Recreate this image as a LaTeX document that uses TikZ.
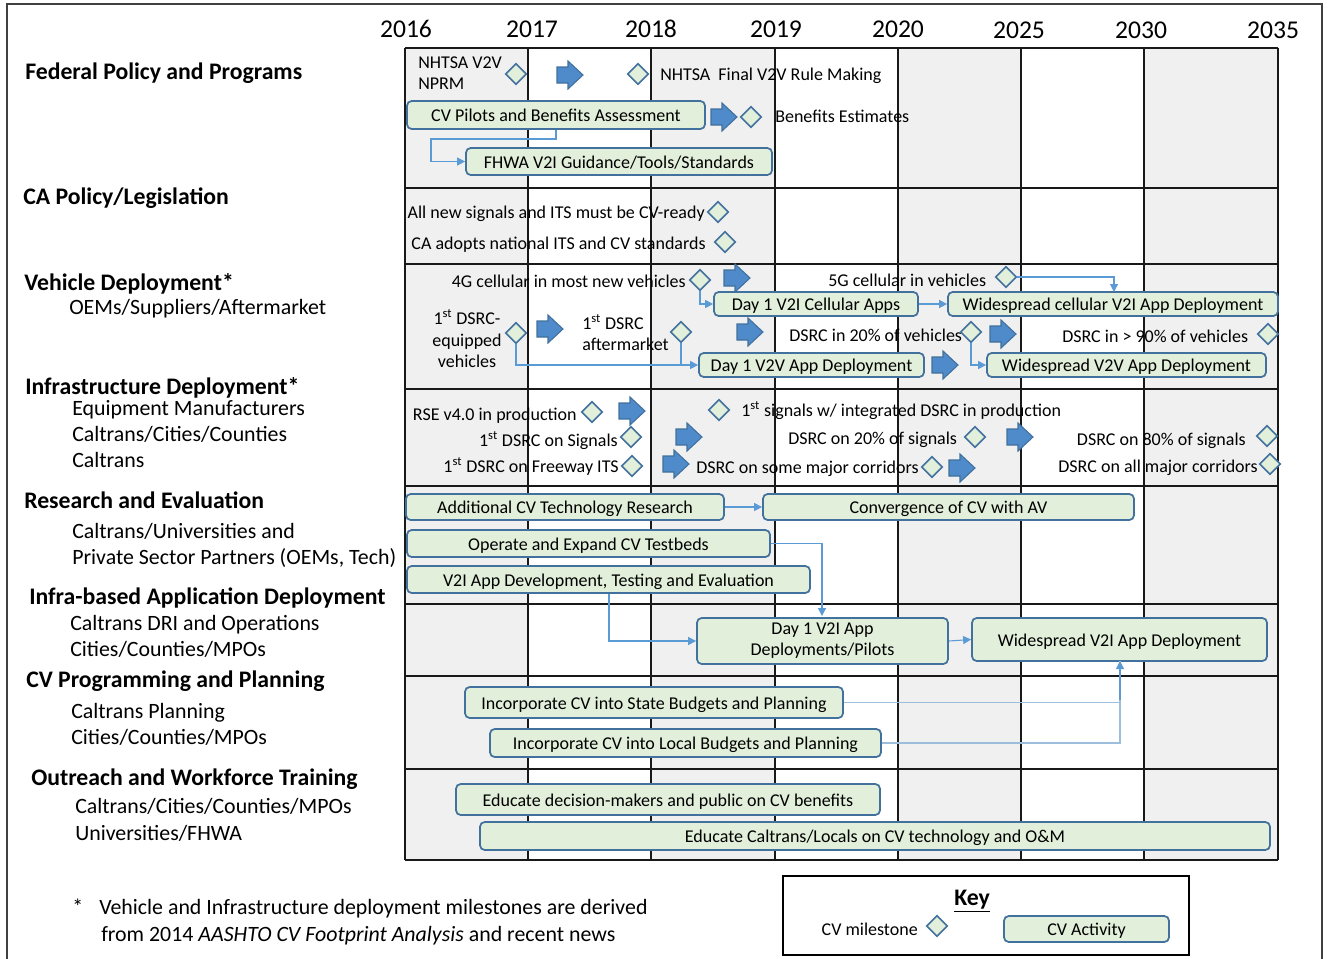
\documentclass[tikz,border=0pt]{standalone}
\usepackage{fontspec}
\setmainfont{Carlito}
\usetikzlibrary{shapes.geometric,arrows.meta,calc}
\definecolor{gridgray}{HTML}{F0F0F0}
\definecolor{actgreen}{HTML}{E2EFDA}
\definecolor{msblue}{HTML}{41719C}
\definecolor{arrblue}{HTML}{4F8ACB}
\definecolor{connblue}{HTML}{5B9BD5}
\definecolor{connlight}{HTML}{9CBDDC}
\definecolor{framegray}{HTML}{404040}
\newcommand\fbody{\fontsize{13.5}{16}\selectfont}
\newcommand\fhead{\fontsize{17.8}{21}\selectfont\bfseries}
\newcommand\fsubl{\fontsize{16.4}{19.5}\selectfont}
\newcommand\fyear{\fontsize{19.2}{23}\selectfont}
\newcommand\actbox[6]{\node[act, minimum width={(#4-#2)*0.75pt}, minimum height={(#5-#3)*0.75pt}] (#1) at ({(#2+#4)/2},{(#3+#5)/2}) {#6};}
\tikzset{
 txt/.style={inner sep=0pt, font=\fbody, text height=0.98em, text depth=0pt},
 ml/.style={inner sep=0pt, font=\fbody, align=center},
 hd/.style={inner sep=0pt, font=\fhead, anchor=west, text height=1.15em, text depth=0pt},
 sb/.style={inner sep=0pt, font=\fsubl, anchor=west, text height=1.01em, text depth=0pt},
 yr/.style={inner sep=0pt, font=\fyear, text height=1.03em, text depth=0pt},
 ms/.style={diamond, draw=msblue, fill=actgreen, line width=1.2pt, minimum width=16pt, minimum height=16pt, inner sep=0pt},
 act/.style={rounded corners=3.5pt, draw=msblue, fill=actgreen, line width=1.3pt, font=\fbody, align=center, inner sep=0pt, text height=1.1em, text depth=0.1em},
 conn/.style={draw=connblue, line width=0.8pt, -{Triangle[length=6pt,width=6pt]}},
 plainconn/.style={draw=connblue, line width=0.8pt},
 lightconn/.style={draw=connlight, line width=0.8pt},
 gridline/.style={draw=black!90, line width=1.4pt},
 barrow/.pic={\path[draw=msblue, fill=arrblue, line width=0.8pt] (-13,-8)--(-2,-8)--(-2,-14)--(13,0)--(-2,14)--(-2,8)--(-13,8)--cycle;},
}
\begin{document}
\begin{tikzpicture}[x=0.75pt,y=-0.75pt]
\useasboundingbox (0,0) rectangle (1328,958);
% outer frame
\draw[draw=framegray, line width=1.1pt] (7,970) -- (7,4) -- (1322,4) -- (1322,970);
% grid fills
\foreach \a/\b in {405/528,651/775,898/1021,1144/1278}{\fill[gridgray] (\a,48) rectangle (\b,860);}
\foreach \x in {405,528,651,775,898,1021,1144,1278}{\draw[gridline] (\x,48) -- (\x,860);}
\foreach \y in {48,188,264,389,486,604,676,769,860}{\draw[gridline] (405,\y) -- (1278,\y);}
% years
\node[yr] (y16) at (406,31) {2016};
\node[yr] (y17) at (532,31) {2017};
\node[yr] (y18) at (651,31) {2018};
\node[yr] (y19) at (776,31) {2019};
\node[yr] (y20) at (898,31) {2020};
\node[yr] (y25) at (1019,32) {2025};
\node[yr] (y30) at (1141,32) {2030};
\node[yr] (y35) at (1273,32) {2035};
% left labels
\node[hd] (h1) at (25,72) {Federal Policy and Programs};
\node[hd] (h2) at (23,197) {CA Policy/Legislation};
\node[hd] (h3) at (24,283) {Vehicle Deployment*};
\node[sb] (s31) at (69,308) {OEMs/Suppliers/Aftermarket};
\node[hd] (h4) at (25,387) {Infrastructure Deployment*};
\node[sb] (s41) at (72,409) {Equipment Manufacturers};
\node[sb] (s42) at (72,435) {Caltrans/Cities/Counties};
\node[sb] (s43) at (72,461) {Caltrans};
\node[hd] (h5) at (24,501) {Research and Evaluation};
\node[sb] (s51) at (72,532) {Caltrans/Universities and};
\node[sb] (s52) at (72,558) {Private Sector Partners (OEMs, Tech)};
\node[hd] (h6) at (29,597) {Infra-based Application Deployment};
\node[sb] (s61) at (70,624) {Caltrans DRI and Operations};
\node[sb] (s62) at (70,650) {Cities/Counties/MPOs};
\node[hd] (h7) at (26,680) {CV Programming and Planning};
\node[sb] (s71) at (71,712) {Caltrans Planning};
\node[sb] (s72) at (71,738) {Cities/Counties/MPOs};
\node[hd] (h8) at (31,778) {Outreach and Workforce Training};
\node[sb] (s81) at (75,807) {Caltrans/Cities/Counties/MPOs};
\node[sb] (s82) at (75,834) {Universities/FHWA};
% ---------- Row 1
\node[ml, align=left, anchor=west, font=\fontsize{13.5}{15.75}\selectfont] (nprm) at (418,73) {NHTSA V2V\\NPRM};
\node[ms] (d1) at (516,74) {};
\pic at (570,75) {barrow};
\node[ms] (d2) at (638,74) {};
\node[txt, anchor=west] (t1) at (660,74) {NHTSA\ \ Final V2V Rule Making};
\actbox{cvpilots}{407}{101}{705}{129}{CV Pilots and Benefits Assessment}
\pic at (724,117) {barrow};
\node[ms] (d3) at (751,117) {};
\node[txt, anchor=west] (t2) at (775,116) {Benefits Estimates};
\actbox{fhwa}{466}{148}{772}{175}{FHWA V2I Guidance/Tools/Standards}
\coordinate (k0) at (556,139);
\draw[conn] (cvpilots.south -| k0) -- (k0) -- (431,139) |- (fhwa.west);
% ---------- Row 2
\node[txt, anchor=east] (t3) at (705,212) {All new signals and ITS must be CV-ready};
\node[ms] (d4) at (718,212) {};
\node[txt, anchor=east] (t4) at (706,243) {CA adopts national ITS and CV standards};
\node[ms] (d5) at (725,242) {};
% ---------- Row 3
\node[txt, anchor=east] (t5) at (686,281) {4G cellular in most new vehicles};
\node[ms] (d4g) at (700,280) {};
\pic at (737,278) {barrow};
\node[txt, anchor=west] (t6) at (828,280) {5G cellular in vehicles};
\node[ms] (d5g) at (1006,277) {};
\actbox{day1cell}{714}{292}{918}{316}{Day 1 V2I Cellular Apps}
\actbox{widecell}{948}{292}{1278}{316}{Widespread cellular V2I App Deployment}
\draw[conn] (d4g.south) |- (day1cell.west);
\draw[conn] (day1cell.east) -- (widecell.west);
\coordinate (k1) at (1114,292);
\draw[conn] (d5g.east) -| (k1);
\node[ml, font=\fontsize{13.5}{16.1}\selectfont] (t7) at (467,339) {1\textsuperscript{st} DSRC-\\equipped\\vehicles};
\node[ms] (deq) at (516,333) {};
\pic at (550,329) {barrow};
\node[ml, align=left, anchor=west, font=\fontsize{13.5}{15.75}\selectfont] (t8) at (582,333) {1\textsuperscript{st} DSRC\\aftermarket};
\node[ms] (daft) at (681,332) {};
\pic at (750,332) {barrow};
\node[txt, anchor=west] (t9) at (789,335) {DSRC in 20\% of vehicles};
\node[ms] (d20) at (971,332) {};
\pic at (1003,334) {barrow};
\node[txt, anchor=west] (t10) at (1062,336) {DSRC in > 90\% of vehicles};
\node[ms] (d90) at (1268,334) {};
\actbox{day1v2v}{699}{353}{924}{377}{Day 1 V2V App Deployment}
\pic at (945,365) {barrow};
\actbox{widev2v}{987}{353}{1266}{377}{Widespread V2V App Deployment}
\draw[conn] (deq.south) |- (day1v2v.west);
\draw[plainconn] (daft.south) -- (daft.south |- day1v2v.west);
\draw[conn] (d20.south) |- (widev2v.west);
% ---------- Row 4
\node[txt, anchor=east] (t11) at (577,414) {RSE v4.0 in production};
\node[ms] (drse) at (592,412) {};
\pic at (632,411) {barrow};
\node[ms] (dint) at (719,410) {};
\node[txt, anchor=west] (t12) at (741,410) {1\textsuperscript{st} signals w/ integrated DSRC in production};
\node[txt, anchor=east] (t13) at (618,440) {1\textsuperscript{st} DSRC on Signals};
\node[ms] (dsig) at (631,437) {};
\pic at (689,437) {barrow};
\node[txt, anchor=west] (t14) at (788,438) {DSRC on 20\% of signals};
\node[ms] (dsig20) at (975,437) {};
\pic at (1020,437) {barrow};
\node[txt, anchor=east] (t15) at (1246,439) {DSRC on 80\% of signals};
\node[ms] (dsig80) at (1267,436) {};
\node[txt, anchor=east] (t16) at (619,466) {1\textsuperscript{st} DSRC on Freeway ITS};
\node[ms] (dfwy) at (632,466) {};
\pic at (676,464) {barrow};
\node[txt, anchor=west] (t17) at (696,467) {DSRC on some major corridors};
\node[ms] (dsome) at (932,467) {};
\pic at (962,468) {barrow};
\node[txt, anchor=east] (t18) at (1258,466) {DSRC on all major corridors};
\node[ms] (dall) at (1270,464) {};
% ---------- Row 5 / 6
\actbox{addl}{406}{494}{724}{520}{Additional CV Technology Research}
\actbox{conv}{763}{494}{1134}{520}{Convergence of CV with AV}
\draw[conn] (addl.east) -- (conv.west);
\actbox{testbeds}{407}{530}{770}{557}{Operate and Expand CV Testbeds}
\actbox{v2idev}{407}{566}{810}{593}{V2I App Development, Testing and Evaluation}
\node[act, text height={}, text depth={}, minimum width={(948-697)*0.75pt}, minimum height={(662-616)*0.75pt}, font=\fontsize{13.5}{15.75}\selectfont] (day1v2i) at ({(697+948)/2},{(616+662)/2+2}) {Day 1 V2I App\\Deployments/Pilots};
\actbox{widev2i}{972}{618}{1267}{661}{Widespread V2I App Deployment}
\coordinate (k2) at (822,616);
\draw[conn] (testbeds.east) -| (k2);
\coordinate (k3) at (609,593);
\draw[conn] (v2idev.south -| k3) |- (day1v2i.west);
\draw[conn] (day1v2i.east) -- (widev2i.west);
% ---------- Row 7
\actbox{state}{465}{687}{843}{718}{Incorporate CV into State Budgets and Planning}
\actbox{local}{490}{729}{881}{757}{Incorporate CV into Local Budgets and Planning}
\coordinate (k4) at (1120,661);
\draw[lightconn] (local.east) -| (k4);
\draw[lightconn] (state.east) -| (k4);
\draw[conn] (1120,700) -- (k4);
% ---------- Row 8
\actbox{edu1}{456}{784}{880}{815}{Educate decision-makers and public on CV benefits}
\actbox{edu2}{480}{822}{1270}{850}{Educate Caltrans/Locals on CV technology and O\&M}
% ---------- footnote
\node[sb] (fs) at (72,908) {*};
\node[sb] (f1) at (99,908) {Vehicle and Infrastructure deployment milestones are derived};
\node[sb] (f2) at (101,935) {from 2014 \textit{AASHTO CV Footprint Analysis} and recent news};
% ---------- key
\node[draw=black, line width=1.3pt, minimum width={(1189-783)*0.75pt}, minimum height={(955-876)*0.75pt}, inner sep=0pt] (keybox) at ({(783+1189)/2},{(876+955)/2}) {};
\node[inner sep=0pt, font=\fhead, text height=1.15em, text depth=0pt] (keyt) at (972,898) {\underline{Key}};
\node[txt, anchor=east] (kms) at (918,929) {CV milestone};
\node[ms] (kd) at (937,926) {};
\actbox{kact}{1004}{916}{1169}{942}{CV Activity}
\end{tikzpicture}
\end{document}
